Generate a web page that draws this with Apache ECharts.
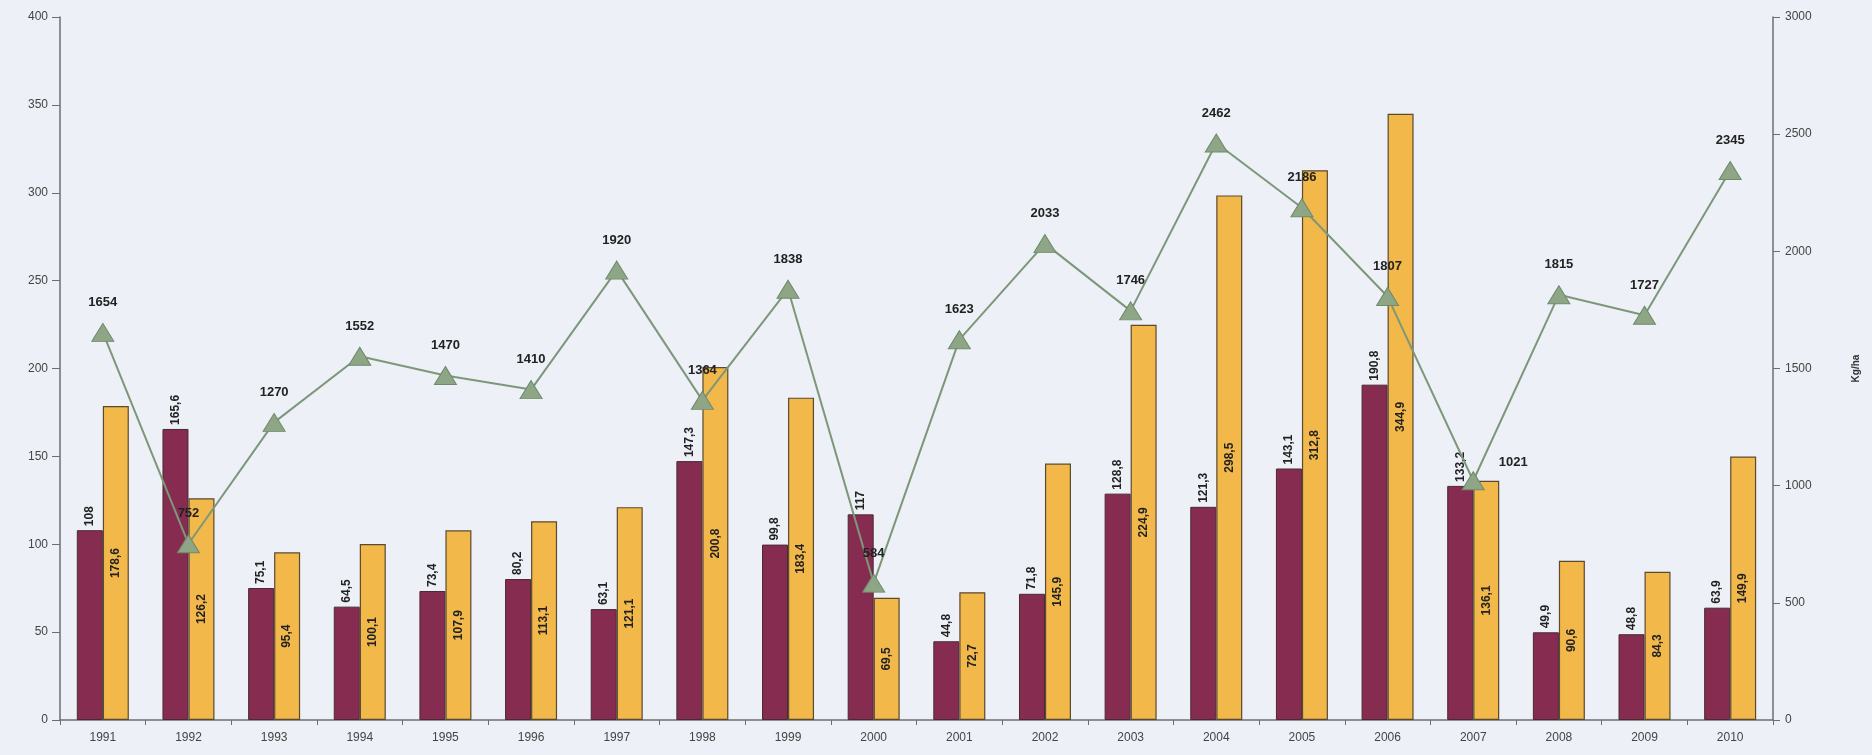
<!DOCTYPE html>
<html>
<head>
<meta charset="utf-8">
<script src="https://cdn.jsdelivr.net/npm/echarts@6/dist/echarts.min.js"></script>
<style>
  html, body { margin: 0; padding: 0; background: #edf0f6; }
  #chart { width: 1872px; height: 755px; }
</style>
</head>
<body>
<div id="chart"></div>
<script>
// Years on the category axis
const years = ['1991','1992','1993','1994','1995','1996','1997','1998','1999','2000',
               '2001','2002','2003','2004','2005','2006','2007','2008','2009','2010'];
// Left axis values (maroon bars)
const seriesA = [108, 165.6, 75.1, 64.5, 73.4, 80.2, 63.1, 147.3, 99.8, 117,
                 44.8, 71.8, 128.8, 121.3, 143.1, 190.8, 133.2, 49.9, 48.8, 63.9];
// Left axis values (yellow bars)
const seriesB = [178.6, 126.2, 95.4, 100.1, 107.9, 113.1, 121.1, 200.8, 183.4, 69.5,
                 72.7, 145.9, 224.9, 298.5, 312.8, 344.9, 136.1, 90.6, 84.3, 149.9];
// Right axis values, Kg/ha (line)
const yieldKg = [1654, 752, 1270, 1552, 1470, 1410, 1920, 1364, 1838, 584,
                 1623, 2033, 1746, 2462, 2186, 1807, 1021, 1815, 1727, 2345];

const leftTicks = { min: 0, max: 400, interval: 50 };
const rightTicks = { min: 0, max: 3000, interval: 500 };

const comma = v => String(v).replace('.', ',');
const font = '"Liberation Sans", Arial, sans-serif';

const chart = echarts.init(document.getElementById('chart'));
chart.setOption({
  backgroundColor: '#edf0f6',
  animation: false,
  textStyle: { fontFamily: font },
  grid: { left: 60, right: 99, top: 17, bottom: 35 },
  xAxis: {
    type: 'category',
    data: years,
    axisLine: { lineStyle: { color: '#6e6e72', width: 1.5 } },
    axisTick: { show: true, length: 5, lineStyle: { color: '#6e6e72' } },
    axisLabel: { color: '#444', fontSize: 12, margin: 12, fontFamily: font }
  },
  yAxis: [
    {
      type: 'value', min: leftTicks.min, max: leftTicks.max, interval: leftTicks.interval,
      splitLine: { show: false },
      axisLine: { show: true, lineStyle: { color: '#6e6e72', width: 1.5 } },
      axisTick: { show: true, length: 8, lineStyle: { color: '#6e6e72' } },
      axisLabel: { color: '#444', fontSize: 12, margin: 12, fontFamily: font,
                   formatter: v => String(v) }
    },
    {
      type: 'value', min: rightTicks.min, max: rightTicks.max, interval: rightTicks.interval,
      position: 'right',
      name: 'Kg/ha', nameLocation: 'middle', nameRotate: 90, nameGap: 78,
      nameTextStyle: { color: '#333', fontSize: 10, fontWeight: 'bold', fontFamily: font },
      splitLine: { show: false },
      axisLine: { show: true, lineStyle: { color: '#6e6e72', width: 1.5 } },
      axisTick: { show: true, length: 7, lineStyle: { color: '#6e6e72' } },
      axisLabel: { color: '#444', fontSize: 12, margin: 12, fontFamily: font,
                   formatter: v => String(v) }
    }
  ],
  series: [
    {
      type: 'bar', data: seriesA, yAxisIndex: 0,
      barWidth: 26, barGap: '0%',
      itemStyle: { color: '#862c50', borderColor: '#4a2a30', borderWidth: 1 },
      label: {
        show: true, position: 'top', rotate: 90, align: 'left', verticalAlign: 'middle',
        distance: 4, color: '#222', fontSize: 12, fontWeight: 'bold', fontFamily: font,
        formatter: p => comma(p.value)
      },
      z: 2
    },
    {
      type: 'bar', data: seriesB, yAxisIndex: 0,
      barWidth: 26, barGap: '0%',
      itemStyle: { color: '#f2b84a', borderColor: '#5a4a30', borderWidth: 1.2 },
      label: {
        show: true, position: 'inside', rotate: 90, align: 'center', verticalAlign: 'middle',
        color: '#222', fontSize: 12, fontWeight: 'bold', fontFamily: font,
        formatter: p => comma(p.value)
      },
      z: 2
    },
    {
      type: 'line', yAxisIndex: 1,
      data: yieldKg.map((v, i) => i === 16
        ? { value: v, label: { position: 'right', distance: 14, offset: [0, -18] } }
        : v),
      symbol: 'triangle', symbolSize: [22, 18],
      lineStyle: { color: '#7d977a', width: 2 },
      itemStyle: { color: '#8ea686', borderColor: '#6f8a6c', borderWidth: 1 },
      label: {
        show: true, position: 'top', distance: 14, color: '#222',
        fontSize: 13, fontWeight: 'bold', fontFamily: font
      },
      z: 5
    }
  ]
});
</script>
</body>
</html>
